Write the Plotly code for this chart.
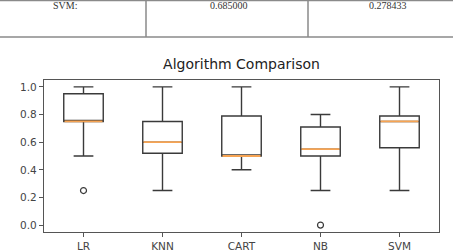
import plotly.graph_objects as go

# ---- data ----
categories = ["LR", "KNN", "CART", "NB", "SVM"]
q1 = [0.75, 0.52, 0.50, 0.50, 0.56]
median = [0.75, 0.60, 0.50, 0.55, 0.75]
q3 = [0.95, 0.75, 0.79, 0.71, 0.79]
lower = [0.50, 0.25, 0.40, 0.25, 0.25]
upper = [1.00, 1.00, 1.00, 0.80, 1.00]
outlier_cat = ["LR", "NB"]
outlier_val = [0.25, 0.0]
table_row = ["SVM:", "0.685000", "0.278433"]

W, H = 453, 251
L, R, T, B = 44, 14, 80, 19
pw, ph = W - L - R, H - T - B

def px_x(x):
    return (x - L) / pw

def px_y(y):
    return (H - B - y) / ph

pos = {c: i + 1 for i, c in enumerate(categories)}
xs = [pos[c] for c in categories]
box_w = 0.5

fig = go.Figure()
fig.add_trace(go.Box(
    x=xs, q1=q1, median=median, q3=q3, lowerfence=lower, upperfence=upper,
    width=box_w, whiskerwidth=0.5, line=dict(color="#3a3a3a", width=1.4),
    fillcolor="rgba(0,0,0,0)", boxpoints=False, showlegend=False, hoverinfo="skip"))

# orange median lines (drawn over the box's own median)
mx, my = [], []
for p, m in zip(xs, median):
    mx += [p - box_w / 2 + 0.01, p + box_w / 2 - 0.01, None]
    my += [m, m, None]
fig.add_trace(go.Scatter(x=mx, y=my, mode="lines", line=dict(color="#f7a453", width=1.8),
                         showlegend=False, hoverinfo="skip"))
fig.add_trace(go.Scatter(
    x=[pos[c] for c in outlier_cat], y=outlier_val, mode="markers",
    marker=dict(symbol="circle-open", size=6, color="#3a3a3a", line=dict(width=1.2)),
    showlegend=False, hoverinfo="skip"))

# table row at top
shapes = []
grey = "#8a8a8a"
shapes.append(dict(type="line", xref="paper", yref="paper", x0=px_x(0), x1=px_x(W),
                   y0=px_y(0.5), y1=px_y(0.5), line=dict(color=grey, width=1.5)))
shapes.append(dict(type="line", xref="paper", yref="paper", x0=px_x(0), x1=px_x(W),
                   y0=px_y(37), y1=px_y(37), line=dict(color=grey, width=1.5)))
for xv in (146, 308):
    shapes.append(dict(type="line", xref="paper", yref="paper", x0=px_x(xv), x1=px_x(xv),
                       y0=px_y(0), y1=px_y(37), line=dict(color=grey, width=1.5)))
annots = []
for txt, cx in zip(table_row, (65, 229, 388)):
    annots.append(dict(text=txt, xref="paper", yref="paper", x=px_x(cx), y=px_y(6),
                       showarrow=False, xanchor="center", yanchor="middle",
                       font=dict(family="Liberation Serif", size=10, color="#333")))

fig.update_layout(
    width=W, height=H, margin=dict(l=L, r=R, t=T, b=B),
    paper_bgcolor="white", plot_bgcolor="white",
    title=dict(text="Algorithm Comparison", x=241.5 / W, xanchor="center",
               y=1 - 64 / H, yanchor="middle", yref="container",
               font=dict(family="DejaVu Sans", size=14, color="#222")),
    shapes=shapes, annotations=annots, boxmode="overlay",
    font=dict(family="DejaVu Sans", size=10.5, color="#444"),
)
fig.update_xaxes(range=[0.5, 5.5], tickvals=xs, ticktext=categories, showgrid=False,
                 zeroline=False, showline=True, linecolor="#555", linewidth=1.2, mirror=True,
                 ticks="outside", ticklen=4, tickcolor="#555", automargin=False)
fig.update_yaxes(range=[-0.05, 1.05], tickvals=[0, 0.2, 0.4, 0.6, 0.8, 1.0], tickformat=".1f",
                 showgrid=False, zeroline=False, showline=True, linecolor="#555", linewidth=1.2,
                 mirror=True, ticks="outside", ticklen=4, tickcolor="#555", automargin=False)

fig.write_html("out.html")
